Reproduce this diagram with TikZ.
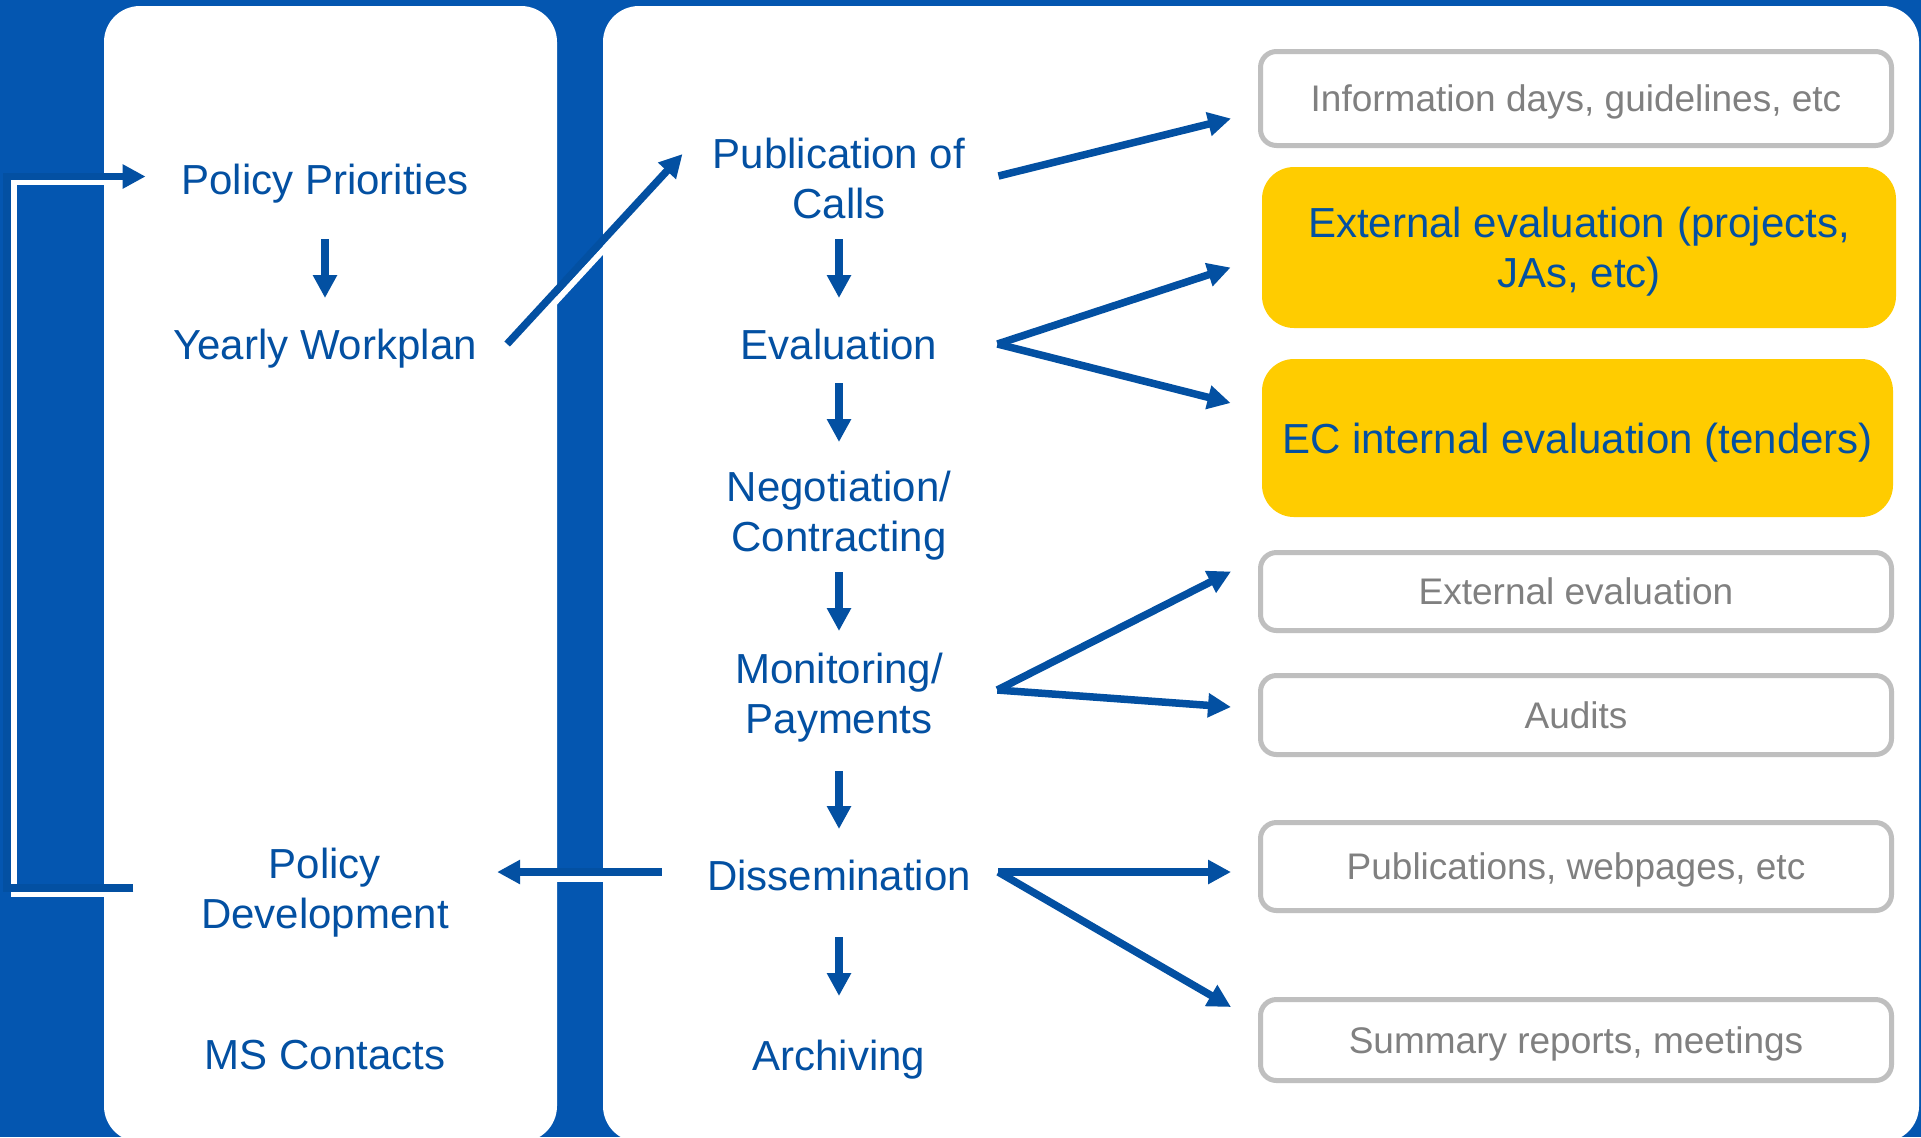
\documentclass[tikz,border=0pt]{standalone}
\usepackage{fontspec}
\setmainfont{Liberation Sans}
\usetikzlibrary{arrows.meta, positioning}
\definecolor{bgblue}{RGB}{4,86,176}
\definecolor{ecblue}{RGB}{3,80,162}
\definecolor{ecyellow}{RGB}{255,204,0}
\definecolor{boxgray}{RGB}{191,191,191}
\definecolor{txtgray}{RGB}{128,128,128}

\begin{document}
\begin{tikzpicture}[x=0.5pt, y=-0.5pt, >={Triangle[length=11.5pt,width=11.5pt]},
    stage/.style={align=center, inner sep=0pt, text depth=0pt, text=ecblue, font=\fontsize{21}{25}\selectfont},
    panel/.style={fill=white, rounded corners=18pt},
    outcome/.style={draw=boxgray, line width=2.5pt, fill=white, rounded corners=8pt, text=txtgray,
      font=\fontsize{18.5}{22}\selectfont, inner sep=0pt, text depth=0pt, minimum width=315.5pt},
    focus/.style={fill=ecyellow, rounded corners=16pt, text=ecblue, align=center, text depth=0pt,
      font=\fontsize{21}{25}\selectfont, inner sep=0pt},
    flow/.style={->, ecblue, line width=3.75pt},
    shade/.style={draw=white, line width=3pt}]
    \fill[bgblue] (0,0) rectangle (1921,1137);
    \useasboundingbox (0,0) rectangle (1921,1137);
    \fill[panel] (104,6) rectangle (557,1142);
    \fill[panel] (603,6) rectangle (1919,1142);

    \node[stage] (pp)  at (325,179)  {Policy Priorities};
    \node[stage] (wp)  at (325,344)  {Yearly Workplan};
    \node[stage] (pd)  at (325,888)  {Policy\\Development};
    \node[stage] (ms)  at (325,1055) {MS Contacts};
    \node[stage] (pub) at (839,178)  {Publication of\\Calls};
    \node[stage] (eva) at (839,344)  {Evaluation};
    \node[stage] (neg) at (839,511)  {Negotiation/\\Contracting};
    \node[stage] (mon) at (839,693)  {Monitoring/\\Payments};
    \node[stage] (dis) at (839,875)  {Dissemination};
    \node[stage] (arc) at (839,1055) {Archiving};

    \node[outcome, minimum height=47pt]   (info) at (1576,98.5)  {Information days, guidelines, etc};
    \node[focus, minimum width=317pt, minimum height=80.5pt] (extp) at (1579,247.5) {External evaluation (projects,\\JAs, etc)};
    \node[focus, minimum width=315.5pt, minimum height=79pt] (ecin) at (1577.5,438) {EC internal evaluation (tenders)};
    \node[outcome, minimum height=39pt]   (exte) at (1576,591.5) {External evaluation};
    \node[outcome, minimum height=39.5pt] (aud)  at (1576,715)   {Audits};
    \node[outcome, minimum height=44pt]   (pubw) at (1576,866.5) {Publications, webpages, etc};
    \node[outcome, minimum height=40.5pt] (summ) at (1576,1040)  {Summary reports, meetings};

    \path[flow] (pp.center)  edge[shorten <=30pt, shorten >=23pt] (wp.center);
    \path[flow] (pub.center) edge[shorten <=30.5pt, shorten >=23pt] (eva.center);
    \path[flow] (eva.center) edge[shorten <=19.5pt, shorten >=34.5pt] (neg.center);
    \path[flow] (neg.center) edge[shorten <=30.5pt, shorten >=31pt] (mon.center);
    \path[flow] (mon.center) edge[shorten <=39pt, shorten >=23pt] (dis.center);
    \path[flow] (dis.center) edge[shorten <=31pt, shorten >=29.5pt] (arc.center);

    \path[flow] ([xshift=16.5pt,yshift=1pt]pub.east) edge ([xshift=-13.5pt,yshift=-10pt]info.west);
    \path[flow] ([xshift=30pt]eva.east) edge ([xshift=-15.5pt,yshift=-10pt]extp.west)
      edge ([xshift=-15.5pt,yshift=17.5pt]ecin.west);
    \path[flow] ([xshift=27pt,yshift=1.5pt]mon.east) edge ([xshift=-13.5pt,yshift=10pt]exte.west)
      edge ([xshift=-13.5pt,yshift=4pt]aud.west);
    \path[flow] ([xshift=13.5pt,yshift=1.5pt]dis.east) edge ([xshift=-13.5pt,yshift=-2.75pt]pubw.west)
      edge ([xshift=-13.5pt,yshift=16.5pt]summ.west);

    \draw[shade] ([xshift=17.5pt,yshift=-2.4pt]wp.east) -- ([xshift=-12.5pt,yshift=9.6pt]pub.west);
    \draw[flow] ([xshift=15pt]wp.east) -- ([xshift=-15pt,yshift=12pt]pub.west);

    \draw[shade, shorten <=22.5pt, shorten >=24pt] ([yshift=-2pt]dis.west) -- ([yshift=4.5pt]pd.east);
    \draw[flow, shorten <=22.5pt, shorten >=24pt] ([yshift=1.5pt]dis.west) -- ([yshift=8pt]pd.east);

    \draw[shade] ([xshift=-30.25pt,yshift=-3pt]pd.west) -- ++(-126.5,0) |- ([xshift=-17.75pt,yshift=-1.5pt]pp.west);
    \draw[flow] ([xshift=-33.75pt]pd.west) -- ++(-126.5,0) |- ([xshift=-17.75pt,yshift=1.25pt]pp.west);
\end{tikzpicture}
\end{document}
